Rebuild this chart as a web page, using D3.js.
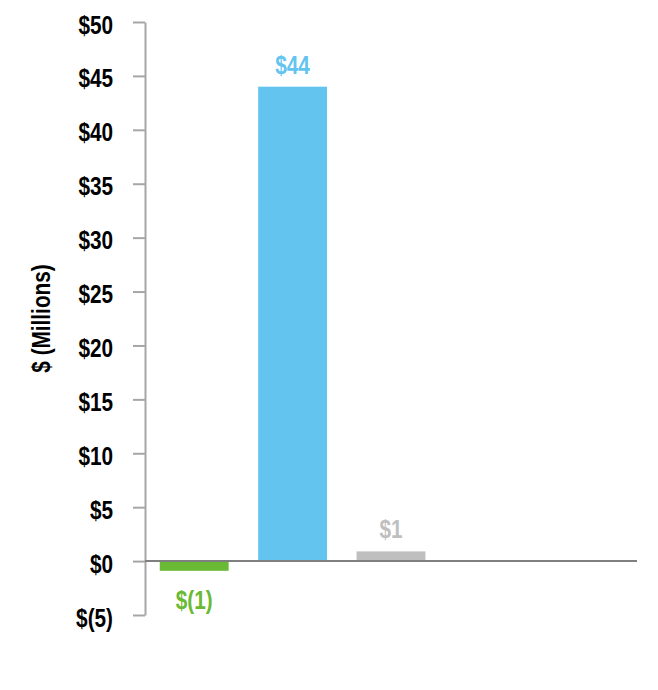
<!DOCTYPE html>
<html>
<head>
<meta charset="utf-8">
<script src="https://cdn.jsdelivr.net/npm/d3@7"></script>
<style>
  body { margin: 0; background: #fff; }
  text { font-family: "Liberation Sans", Arial, sans-serif; font-weight: bold; }
</style>
</head>
<body>
<div id="chart"></div>
<script>
// data
const categories = ["A", "B", "C", "D", "E"];
const values = [-0.9, 44, 0.9, null, null];
const valueLabels = ["$(1)", "$44", "$1", "", ""];
const barColors = ["#6ab934", "#63c4ef", "#bfbfbf", "#bfbfbf", "#bfbfbf"];
const yTicks = [-5, 0, 5, 10, 15, 20, 25, 30, 35, 40, 45, 50];

const width = 658, height = 690;
const margin = { top: 22, right: 21, bottom: 75, left: 145 };
const fontSize = 25;
const narrow = 0.83; // squeeze to look like a narrow face

const svg = d3.select("#chart").append("svg")
    .attr("width", width)
    .attr("height", height);

const x = d3.scaleBand()
    .domain(categories)
    .range([margin.left, width - margin.right])
    .paddingInner(0.3)
    .paddingOuter(0.15);

const y = d3.scaleLinear()
    .domain([-5, 50])
    .range([height - margin.bottom, margin.top]);

const fmt = v => v < 0 ? `$(${Math.abs(v)})` : `$${v}`;

// y axis
const yAxis = svg.append("g")
    .attr("transform", `translate(${margin.left},0)`)
    .call(d3.axisLeft(y).tickValues(yTicks).tickFormat(fmt).tickSize(12).tickSizeOuter(0).tickPadding(20));
yAxis.select(".domain").attr("stroke", "#a6a6a6").attr("stroke-width", 2);
yAxis.selectAll(".tick line").attr("stroke", "#a6a6a6").attr("stroke-width", 2);
yAxis.selectAll(".tick text")
    .attr("x", -32 / narrow)
    .attr("dy", "0.44em")
    .attr("transform", `scale(${narrow},1)`)
    .attr("font-size", fontSize)
    .attr("fill", "#000")
    .style("font-family", "'Liberation Sans', Arial, sans-serif")
    .style("font-weight", "bold");

// axis title
svg.append("text")
    .attr("transform", `translate(50,${(margin.top + height - margin.bottom) / 2}) rotate(-90) scale(${narrow},1)`)
    .attr("text-anchor", "middle")
    .attr("font-size", fontSize)
    .attr("fill", "#000")
    .text("$ (Millions)");

// bars
const data = categories.map((c, i) => ({ c, v: values[i], label: valueLabels[i], color: barColors[i] }))
    .filter(d => d.v != null);

svg.append("g")
    .selectAll("rect")
    .data(data)
    .enter()
    .append("rect")
    .attr("x", d => x(d.c))
    .attr("width", x.bandwidth())
    .attr("y", d => y(Math.max(0, d.v)))
    .attr("height", d => Math.abs(y(d.v) - y(0)))
    .attr("fill", d => d.color);

// zero line
svg.append("line")
    .attr("x1", margin.left)
    .attr("x2", width - margin.right)
    .attr("y1", y(0))
    .attr("y2", y(0))
    .attr("stroke", "#7f7f7f")
    .attr("stroke-width", 2);

// value labels
svg.append("g")
    .selectAll("text")
    .data(data)
    .enter()
    .append("text")
    .attr("transform", d => {
        const cx = x(d.c) + x.bandwidth() / 2;
        const cy = d.v >= 0 ? y(d.v) - 13 : y(d.v) + 38;
        return `translate(${cx},${cy}) scale(${narrow},1)`;
    })
    .attr("text-anchor", "middle")
    .attr("font-size", fontSize)
    .attr("fill", d => d.color)
    .text(d => d.label);
</script>
</body>
</html>
